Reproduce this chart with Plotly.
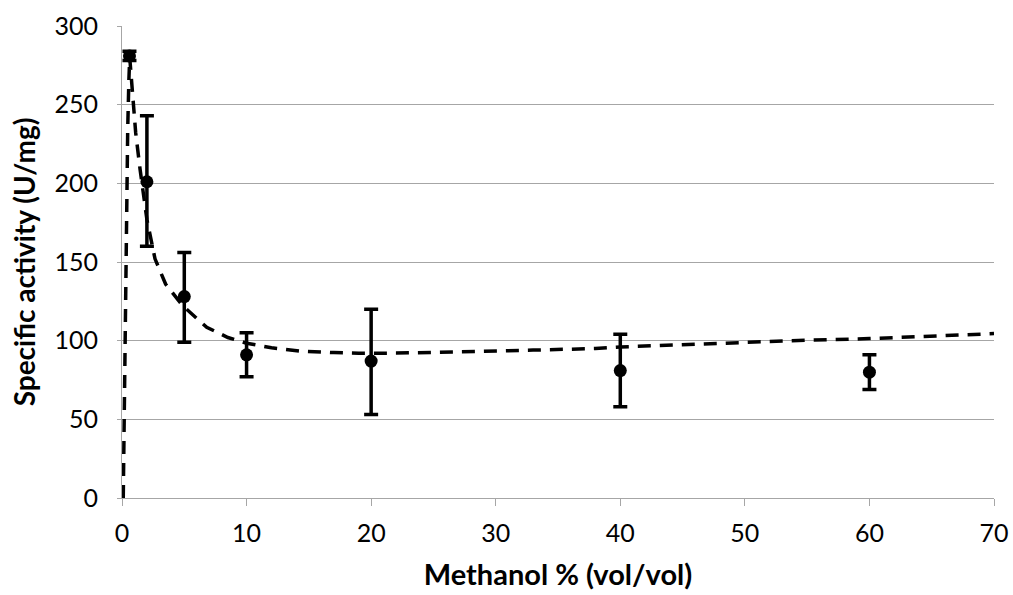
import plotly.graph_objects as go

# Measured data points
methanol = [0.6, 2, 5, 10, 20, 40, 60]
activity = [281, 201, 128, 91, 87, 81, 80]
err_plus = [3, 42, 28, 14, 33, 23, 11]
err_minus = [3, 41, 29, 14, 34, 23, 11]

# Fitted (dashed) trend curve
fit_x = [0.1, 0.18, 0.28, 0.37, 0.46, 0.55, 0.62, 0.8, 1.1, 1.45, 2.0, 2.65, 3.5, 4.9,
         6.8, 8.5, 10, 12, 14.3, 17, 19, 22, 25, 29, 33, 38, 40, 45, 50.5, 55, 60, 65, 70]
fit_y = [0, 60, 130, 185, 235, 265, 280, 262, 232, 209, 177, 152, 136, 122,
         108.5, 102, 98.4, 95.5, 93.4, 92.4, 92, 92.1, 92.4, 93.2, 94, 95, 96, 97.6, 99.4, 100.3, 101.3, 102.8, 104.5]

x_ticks = [0, 10, 20, 30, 40, 50, 60, 70]
y_ticks = [0, 50, 100, 150, 200, 250, 300]

FONT = "Lato"
GRID = "#a6a6a6"

fig = go.Figure()
fig.add_trace(go.Scatter(
    x=fit_x, y=fit_y, mode="lines",
    line=dict(color="black", width=3.5, dash="13px,9px"),
    hoverinfo="skip", showlegend=False,
))
fig.add_trace(go.Scatter(
    x=methanol, y=activity, mode="markers",
    marker=dict(color="black", size=13, symbol="circle"),
    error_y=dict(type="data", array=err_plus, arrayminus=err_minus,
                 color="black", thickness=3.5, width=7, visible=True),
    showlegend=False,
))

fig.update_layout(
    width=1013, height=595,
    margin=dict(l=122, r=19, t=26, b=97),
    paper_bgcolor="white", plot_bgcolor="white",
    font=dict(family=FONT, color="black", size=25),
)
fig.update_xaxes(
    range=[0, 70], tickvals=x_ticks, ticktext=[str(v) for v in x_ticks],
    showgrid=False, zeroline=False, automargin=False,
    showline=True, linecolor=GRID, linewidth=1,
    ticks="outside", ticklen=7, tickcolor=GRID, tickwidth=1,
    ticklabelstandoff=6, ticklabeloverflow="allow",
    tickfont=dict(family=FONT, size=25, color="black"),
    title=dict(text="<b>Methanol % (vol/vol)</b>", font=dict(family=FONT, size=29), standoff=18),
)
fig.update_yaxes(
    range=[0, 300], tickvals=y_ticks, ticktext=[str(v) for v in y_ticks],
    showgrid=True, gridcolor=GRID, gridwidth=1, zeroline=False, automargin=False,
    showline=True, linecolor=GRID, linewidth=1,
    ticks="outside", ticklen=4, tickcolor=GRID, tickwidth=1,
    ticklabelstandoff=14, ticklabeloverflow="allow",
    tickfont=dict(family=FONT, size=25, color="black"),
    title=dict(text="<b>Specific activity (U/mg)</b>", font=dict(family=FONT, size=28), standoff=10),
)

fig.write_html("out.html")
